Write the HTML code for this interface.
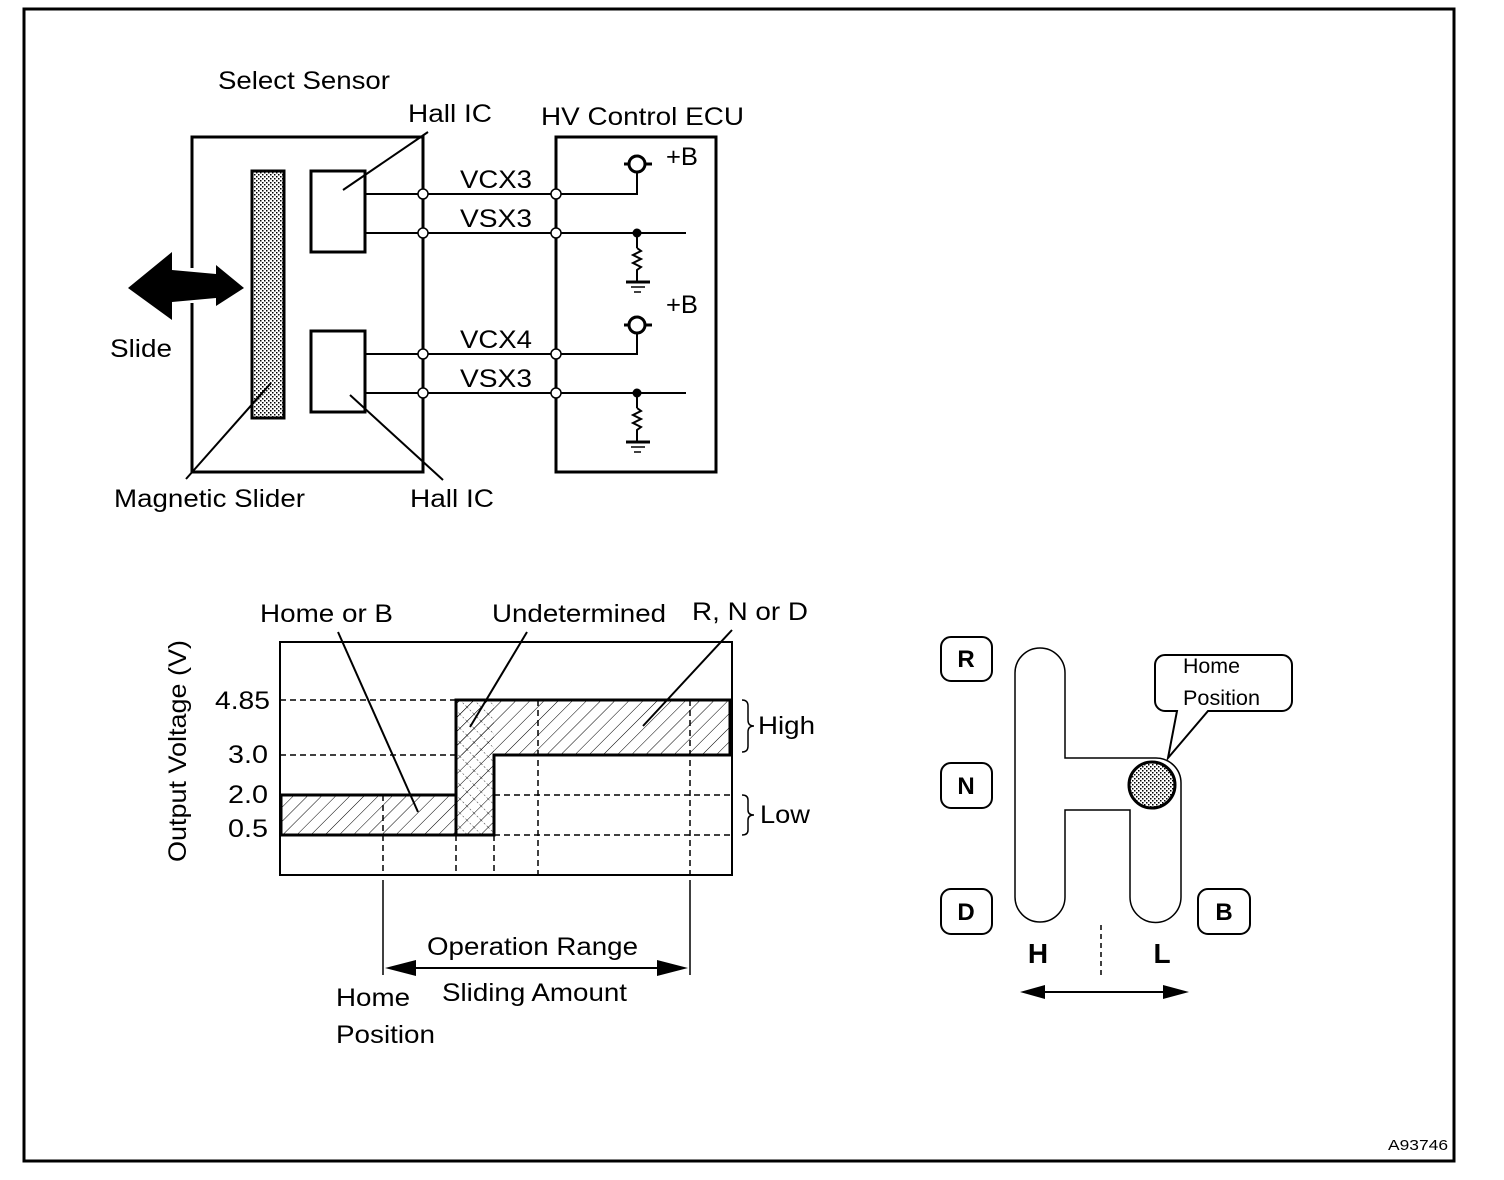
<!DOCTYPE html>
<html><head><meta charset="utf-8"><style>
html,body{margin:0;padding:0;background:#fff}
svg{display:block}
text{font-family:"Liberation Sans",Arial,sans-serif;fill:#000}
</style></head><body>
<svg width="1504" height="1180" viewBox="0 0 1504 1180" xmlns="http://www.w3.org/2000/svg">
<defs>
<pattern id="dots" width="4" height="4" patternUnits="userSpaceOnUse">
<rect width="4" height="4" fill="#fff"/><rect x="0" y="0" width="1.5" height="1.5" fill="#000"/><rect x="2" y="2" width="1.5" height="1.5" fill="#000"/>
</pattern>
<pattern id="hatch" width="10" height="10" patternUnits="userSpaceOnUse" patternTransform="rotate(45)">
<line x1="0" y1="0" x2="0" y2="10" stroke="#000" stroke-width="1"/>
</pattern>
<pattern id="hatch2" width="10" height="10" patternUnits="userSpaceOnUse" patternTransform="rotate(-45)">
<line x1="0" y1="0" x2="0" y2="10" stroke="#000" stroke-width="0.8" stroke-dasharray="2 2"/>
</pattern>
</defs>
<rect x="24" y="9" width="1430" height="1152" fill="none" stroke="#000" stroke-width="3"/>

<!-- Sensor -->
<text x="218" y="89" font-size="25" textLength="172" lengthAdjust="spacingAndGlyphs">Select Sensor</text>
<text x="408" y="122" font-size="25" textLength="84" lengthAdjust="spacingAndGlyphs">Hall IC</text>
<text x="541" y="125" font-size="25" textLength="203" lengthAdjust="spacingAndGlyphs">HV Control ECU</text>
<path d="M192,268 V137 H423 V472 H192 V303" fill="none" stroke="#000" stroke-width="3"/>
<rect x="252" y="171" width="32" height="247" fill="url(#dots)" stroke="#000" stroke-width="3"/>
<rect x="311" y="171" width="54" height="81" fill="none" stroke="#000" stroke-width="3"/>
<rect x="311" y="331" width="54" height="81" fill="none" stroke="#000" stroke-width="3"/>
<polygon points="128,288 172,252 172,270 216,274 216,265 244,288 216,306 216,298 172,302 172,320" fill="#000"/>
<text x="110" y="357" font-size="25" textLength="62" lengthAdjust="spacingAndGlyphs">Slide</text>
<line x1="343" y1="190" x2="428" y2="132" stroke="#000" stroke-width="2"/>
<line x1="271" y1="383" x2="186" y2="479" stroke="#000" stroke-width="2"/>
<line x1="350" y1="395" x2="443" y2="480" stroke="#000" stroke-width="2"/>
<text x="114" y="507" font-size="25" textLength="191" lengthAdjust="spacingAndGlyphs">Magnetic Slider</text>
<text x="410" y="507" font-size="25" textLength="84" lengthAdjust="spacingAndGlyphs">Hall IC</text>

<!-- wires -->
<g stroke="#000" stroke-width="2" fill="none">
<line x1="365" y1="194" x2="556" y2="194"/>
<line x1="365" y1="233" x2="686" y2="233"/>
<line x1="365" y1="354" x2="556" y2="354"/>
<line x1="365" y1="393" x2="686" y2="393"/>
<polyline points="556,194 637,194 637,172"/>
<polyline points="556,354 637,354 637,333"/>
<line x1="637" y1="233" x2="637" y2="248"/>
<polyline points="637,248 641,251 633,255 641,259 633,263 641,267 637,270 637,282"/>
<line x1="637" y1="393" x2="637" y2="408"/>
<polyline points="637,408 641,411 633,415 641,419 633,423 641,427 637,430 637,442"/>
</g>
<rect x="556" y="137" width="160" height="335" fill="none" stroke="#000" stroke-width="3"/>
<g stroke="#000" stroke-width="3"><line x1="626" y1="282" x2="650" y2="282"/><line x1="626" y1="442" x2="650" y2="442"/>
<line x1="624" y1="164" x2="652" y2="164"/><line x1="624" y1="325" x2="652" y2="325"/></g>
<g stroke="#000" stroke-width="1.5"><line x1="631" y1="287" x2="645" y2="287"/><line x1="634" y1="292" x2="641" y2="292"/>
<line x1="631" y1="447" x2="645" y2="447"/><line x1="634" y1="452" x2="641" y2="452"/></g>
<circle cx="637" cy="164" r="8" fill="#fff" stroke="#000" stroke-width="3"/>
<circle cx="637" cy="325" r="8" fill="#fff" stroke="#000" stroke-width="3"/>
<circle cx="637" cy="233" r="4.5" fill="#000"/>
<circle cx="637" cy="393" r="4.5" fill="#000"/>
<g fill="#fff" stroke="#000" stroke-width="1.5">
<circle cx="423" cy="194" r="5"/><circle cx="423" cy="233" r="5"/><circle cx="423" cy="354" r="5"/><circle cx="423" cy="393" r="5"/>
<circle cx="556" cy="194" r="5"/><circle cx="556" cy="233" r="5"/><circle cx="556" cy="354" r="5"/><circle cx="556" cy="393" r="5"/>
</g>
<g font-size="25">
<text x="460" y="188" textLength="72" lengthAdjust="spacingAndGlyphs">VCX3</text>
<text x="460" y="227" textLength="72" lengthAdjust="spacingAndGlyphs">VSX3</text>
<text x="460" y="348" textLength="72" lengthAdjust="spacingAndGlyphs">VCX4</text>
<text x="460" y="387" textLength="72" lengthAdjust="spacingAndGlyphs">VSX3</text>
<text x="666" y="165" textLength="32" lengthAdjust="spacingAndGlyphs">+B</text>
<text x="666" y="313" textLength="32" lengthAdjust="spacingAndGlyphs">+B</text>
</g>

<!-- Graph -->
<g font-size="25">
<text x="260" y="622" textLength="133" lengthAdjust="spacingAndGlyphs">Home or B</text>
<text x="492" y="622" textLength="174" lengthAdjust="spacingAndGlyphs">Undetermined</text>
<text x="692" y="620" textLength="116" lengthAdjust="spacingAndGlyphs">R, N or D</text>
<text transform="translate(186,862) rotate(-90)" textLength="222" lengthAdjust="spacingAndGlyphs">Output Voltage (V)</text>
<text x="215" y="709" textLength="55" lengthAdjust="spacingAndGlyphs">4.85</text>
<text x="228" y="763" textLength="40" lengthAdjust="spacingAndGlyphs">3.0</text>
<text x="228" y="803" textLength="40" lengthAdjust="spacingAndGlyphs">2.0</text>
<text x="228" y="837" textLength="40" lengthAdjust="spacingAndGlyphs">0.5</text>
</g>
<rect x="280" y="642" width="452" height="233" fill="none" stroke="#000" stroke-width="2"/>
<g stroke="#000" stroke-width="1.5" stroke-dasharray="6 4" fill="none">
<line x1="280" y1="700" x2="456" y2="700"/><line x1="280" y1="755" x2="456" y2="755"/>
<line x1="494" y1="795" x2="730" y2="795"/><line x1="494" y1="835" x2="730" y2="835"/>
<line x1="383" y1="795" x2="383" y2="875"/><line x1="456" y1="835" x2="456" y2="875"/>
<line x1="494" y1="835" x2="494" y2="875"/><line x1="538" y1="700" x2="538" y2="875"/>
<line x1="690" y1="700" x2="690" y2="875"/>
</g>
<rect x="456" y="700" width="274" height="55" fill="url(#hatch)"/>
<rect x="281" y="795" width="175" height="40" fill="url(#hatch)"/>
<rect x="456" y="700" width="38" height="135" fill="url(#hatch)"/>
<rect x="456" y="700" width="38" height="135" fill="url(#hatch2)"/>
<g stroke="#000" stroke-width="3" fill="none">
<polyline points="281,835 494,835 494,755 730,755 730,700 456,700 456,795 281,795 281,835"/>
<line x1="456" y1="795" x2="456" y2="835"/>
</g>
<line x1="338" y1="632" x2="418" y2="812" stroke="#000" stroke-width="2"/>
<line x1="527" y1="632" x2="470" y2="727" stroke="#000" stroke-width="2"/>
<line x1="732" y1="630" x2="643" y2="726" stroke="#000" stroke-width="2"/>
<path d="M742,700 q6,0 6,6 v14 q0,6 6,6 q-6,0 -6,6 v14 q0,6 -6,6" fill="none" stroke="#000" stroke-width="1.5"/>
<path d="M742,795 q6,0 6,5 v10 q0,5 6,5 q-6,0 -6,5 v10 q0,5 -6,5" fill="none" stroke="#000" stroke-width="1.5"/>
<g font-size="25">
<text x="758" y="734" textLength="57" lengthAdjust="spacingAndGlyphs">High</text>
<text x="760" y="823" textLength="50" lengthAdjust="spacingAndGlyphs">Low</text>
</g>
<line x1="383" y1="880" x2="383" y2="975" stroke="#000" stroke-width="1.5"/>
<line x1="690" y1="880" x2="690" y2="975" stroke="#000" stroke-width="1.5"/>
<line x1="410" y1="968" x2="662" y2="968" stroke="#000" stroke-width="2"/>
<polygon points="385,968 416,960 416,976" fill="#000"/>
<polygon points="688,968 657,960 657,976" fill="#000"/>
<g font-size="25">
<text x="427" y="955" textLength="211" lengthAdjust="spacingAndGlyphs">Operation Range</text>
<text x="442" y="1001" textLength="185" lengthAdjust="spacingAndGlyphs">Sliding Amount</text>
<text x="336" y="1006" textLength="74" lengthAdjust="spacingAndGlyphs">Home</text>
<text x="336" y="1043" textLength="99" lengthAdjust="spacingAndGlyphs">Position</text>
</g>

<!-- Shift gate -->
<g fill="none" stroke="#000" stroke-width="2">
<rect x="941" y="637" width="51" height="44" rx="10"/>
<rect x="941" y="763" width="51" height="45" rx="10"/>
<rect x="941" y="889" width="51" height="45" rx="10"/>
<rect x="1198" y="889" width="52" height="45" rx="10"/>
</g>
<g font-size="24" font-weight="bold" text-anchor="middle">
<text x="966" y="667">R</text><text x="966" y="794">N</text><text x="966" y="920">D</text><text x="1224" y="920">B</text>
</g>
<path d="M1065,673 V758 H1156 A25,25 0 0 1 1181,783 V897 A25,25 0 0 1 1130,897 V810 H1065 V897 A25,25 0 0 1 1015,897 V673 A25,25 0 0 1 1065,673 Z" fill="none" stroke="#000" stroke-width="1.5"/>
<circle cx="1152" cy="785" r="23" fill="url(#dots)" stroke="#000" stroke-width="3"/>
<path d="M1165,655 H1282 A10,10 0 0 1 1292,665 V701 A10,10 0 0 1 1282,711 H1208 L1168,758 L1177,711 H1165 A10,10 0 0 1 1155,701 V665 A10,10 0 0 1 1165,655 Z" fill="#fff" stroke="#000" stroke-width="2"/>
<text x="1183" y="673" font-size="21" textLength="57" lengthAdjust="spacingAndGlyphs">Home</text>
<text x="1183" y="705" font-size="21" textLength="77" lengthAdjust="spacingAndGlyphs">Position</text>
<text x="1038" y="963" font-size="28" font-weight="bold" text-anchor="middle">H</text>
<text x="1162" y="963" font-size="28" font-weight="bold" text-anchor="middle">L</text>
<line x1="1101" y1="925" x2="1101" y2="975" stroke="#000" stroke-width="1.5" stroke-dasharray="5 4"/>
<line x1="1040" y1="992" x2="1165" y2="992" stroke="#000" stroke-width="2"/>
<polygon points="1020,992 1045,985 1045,999" fill="#000"/>
<polygon points="1189,992 1163,985 1163,999" fill="#000"/>

<text x="1388" y="1150" font-size="15" textLength="60" lengthAdjust="spacingAndGlyphs">A93746</text>
</svg>
</body></html>
